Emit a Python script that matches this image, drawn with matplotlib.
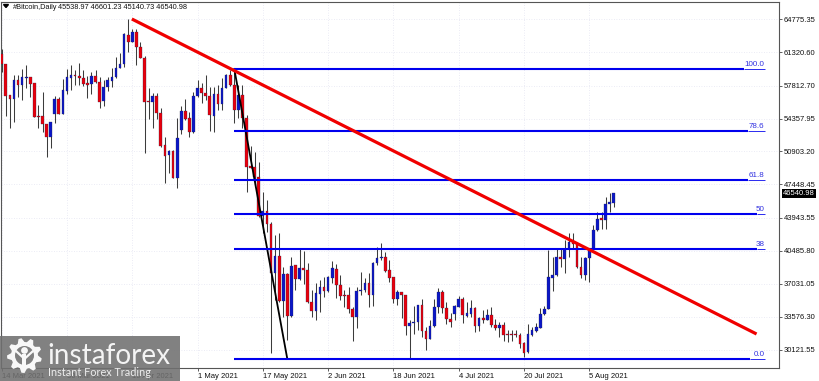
import numpy as np
import matplotlib
matplotlib.use('Agg')
import matplotlib.pyplot as plt
from matplotlib.patches import Rectangle, Polygon, Circle

plt.rcParams['font.family'] = ['Liberation Sans', 'DejaVu Sans']

# daily candles
opens = [61080, 60030, 56820, 56435, 58390, 57900, 58635, 58705, 58040, 54620,
         54620, 53750, 52420, 54865, 56435, 54865, 57240, 58635, 58880, 58810,
         58600, 58040, 58005, 58775, 58180, 56190, 57620, 58320, 58670, 59645,
         60030, 63135, 62330, 63415, 61845, 60730, 56155, 56120, 56750, 54900,
         51550, 50500, 50955, 48165, 53155, 55145, 54410, 52945, 56715, 57585,
         56995, 56715, 54655, 56890, 55840, 57585, 58910, 57865, 55250, 56820,
         54445, 49385, 49245, 48270, 44150, 44710, 43310, 38220, 39960, 35285,
         38080, 33680, 38985, 37590, 38740, 38460, 35180, 34205, 35985, 36680,
         36260, 37695, 38635, 36960, 35915, 35915, 34450, 33540, 36300, 36400,
         37100, 35915, 39195, 39750, 39860, 38460, 37730, 35495, 36160, 35880,
         32635, 32910, 33015, 34830, 32145, 31270, 32635, 34590, 36160, 34480,
         33365, 33855, 34655, 35495, 33715, 33890, 34515, 32635, 33470, 33295,
         33750, 32775, 32460, 32775, 31760, 31760, 31725, 31690, 30820, 29875,
         31690, 32110, 32460, 33855, 34450, 37695, 37970, 39890, 39650, 40660,
         41465, 41220, 38845, 37970, 39715, 40730, 42685, 43905, 43730, 45370,
         45538.97]
highs = [61600, 60030, 56820, 58910, 58910, 59505, 59960, 58705, 58040, 55770,
         57170, 53750, 54025, 56715, 56645, 58460, 59505, 59960, 59435, 60135,
         59435, 58810, 59260, 59435, 58670, 58390, 58670, 59610, 60830, 61180,
         63275, 64775, 63695, 63695, 62400, 60900, 57515, 56995, 56995, 55420,
         52455, 51060, 51060, 54375, 55665, 56435, 55075, 57170, 58390, 58040,
         58910, 57690, 57690, 57865, 58565, 59020, 59435, 59260, 57865, 57865,
         54725, 51480, 50885, 49840, 46700, 45825, 43555, 42160, 42335, 38845,
         38150, 39890, 39020, 40765, 40520, 39195, 36400, 37100, 37450, 37800,
         37870, 39440, 39125, 37970, 36400, 36750, 34655, 36750, 38320, 37625,
         38150, 39370, 40940, 41290, 40415, 39540, 37800, 36400, 36230, 35880,
         33260, 34725, 34830, 35425, 32565, 33260, 35425, 36575, 36400, 35180,
         33960, 34830, 35775, 35705, 35180, 35355, 34590, 33610, 34310, 34380,
         34655, 33330, 33085, 33085, 32215, 32215, 32215, 31865, 30990, 32845,
         32565, 32910, 34480, 34725, 40590, 39890, 40765, 40765, 41640, 42335,
         42335, 41290, 39820, 39820, 40765, 43210, 44535, 44605, 46105, 46590,
         46601.23]
lows = [59260, 54620, 53330, 54025, 56645, 56295, 57515, 56645, 54480, 53330,
        52980, 50360, 51235, 53920, 54830, 54830, 56925, 57340, 57830, 57865,
        57760, 56540, 56890, 58110, 55490, 55700, 57270, 57690, 58565, 59645,
        59785, 61355, 62330, 59960, 60660, 50710, 54270, 53330, 54270, 51410,
        47570, 48690, 48095, 47115, 52700, 54200, 52385, 52805, 56645, 55945,
        56295, 53085, 52980, 55250, 55250, 57585, 57760, 53850, 54375, 53330,
        46700, 49210, 47220, 44080, 42335, 42510, 29770, 35355, 35180, 33610,
        31165, 33610, 36400, 37450, 37030, 35075, 33610, 33260, 34135, 35635,
        36190, 37100, 35530, 35355, 34655, 33960, 31095, 32390, 35880, 36230,
        34590, 34725, 39020, 39540, 38320, 37275, 35005, 34830, 33435, 31690,
        29320, 31795, 32215, 31445, 30120, 31235, 32565, 34030, 33960, 32845,
        32565, 33260, 34590, 32910, 33610, 33610, 32040, 32145, 32910, 33260,
        32565, 32215, 31515, 31095, 30990, 31095, 31515, 30295, 29350, 29770,
        31585, 32040, 32390, 33785, 34380, 36330, 37900, 38845, 38150, 39890,
        40765, 38670, 37625, 37450, 37205, 40660, 42615, 42790, 42755, 44605,
        45140.73]
closes = [60065, 56750, 56435, 58390, 57865, 58670, 58705, 58005, 54550, 54550,
          53750, 52420, 54025, 56435, 54830, 57305, 58670, 58910, 58810, 58600,
          57935, 57900, 58775, 58180, 56120, 57655, 58390, 58670, 59680, 60030,
          63170, 62400, 63415, 61810, 60730, 56120, 56085, 56750, 54900, 51515,
          50465, 50955, 48095, 52280, 55145, 54340, 52910, 56715, 57585, 56995,
          56750, 54725, 56890, 55875, 57585, 58880, 57865, 55250, 56820, 54445,
          49315, 49210, 48200, 44150, 44710, 43280, 38220, 39960, 35250, 38080,
          33680, 38950, 37590, 38740, 38460, 35145, 34170, 36050, 36680, 36260,
          37765, 38670, 36925, 35810, 35810, 34410, 33540, 36300, 36400, 37100,
          35915, 39265, 39750, 39890, 38425, 37660, 35495, 36230, 35845, 32635,
          32945, 33050, 34830, 32145, 31235, 32635, 34620, 36160, 34480, 33330,
          33050, 34725, 35495, 33750, 33960, 34515, 32635, 33470, 33295, 33785,
          32705, 32425, 32740, 31690, 31690, 31690, 31655, 30715, 29840, 31760,
          32180, 32495, 33890, 34450, 37730, 37970, 39890, 39680, 40695, 41465,
          41220, 38775, 37970, 39715, 40695, 42685, 43835, 43730, 45405, 45615,
          46540.98]

# x tick labels sit every 16 bars
date_ticks = [0, 16, 32, 48, 64, 80, 96, 112, 128, 144]
date_labels = ['14 Mar 2021', '30 Mar 2021', '15 Apr 2021', '1 May 2021', '17 May 2021',
               '2 Jun 2021', '18 Jun 2021', '4 Jul 2021', '20 Jul 2021', '5 Aug 2021']
price_ticks = [64775.35, 61320.60, 57812.70, 54357.95, 50903.20, 47448.45,
               43943.55, 40485.80, 37031.05, 33576.30, 30121.55]

# fibonacci retracement
fib_names = ['100.0', '78.6', '61.8', '50', '38', '0.0']
fib_prices = [59540, 53043, 47941, 44359, 40716, 29178]
fib_thick_end = [182, 183, 183, 185, 185, 183.5]
fib_start, fib_end = 57, 187

trend_x = [31.9, 185]
trend_y = [64775, 31795]
swing_x = [57, 70]
swing_y = [59540, 29178]

last_price = closes[-1]

W, H = 820, 381
fig = plt.figure(figsize=(W / 100, H / 100), dpi=100, facecolor='white')
ax = fig.add_axes([1.5 / W, 1 - 367.5 / H, 777.5 / W, 366 / H])
ax.set_xlim(-0.05, 190.5)
ax.set_ylim(28288, 66608)

ax.grid(True, color='#e4e5f2', linestyle=(0, (1, 2)), linewidth=0.6)
ax.set_axisbelow(True)

xs = np.arange(len(opens))
opens_a = np.array(opens)
closes_a = np.array(closes)
ax.vlines(xs, lows, highs, color='#3c3c3c', linewidth=0.75, zorder=2)
tops = np.maximum(opens_a, closes_a)
bottoms = np.minimum(opens_a, closes_a)
colors = ['#0b17c8' if c >= o else '#e8000c' for o, c in zip(opens, closes)]
ax.bar(xs, np.maximum(tops - bottoms, 90), bottom=bottoms, width=0.66, color=colors,
       edgecolor='#222244', linewidth=0.2, zorder=3)

ax.plot(swing_x, swing_y, color='black', linewidth=1.3, zorder=4)

for name, price, thick in zip(fib_names, fib_prices, fib_thick_end):
    ax.plot([fib_start, thick], [price, price], color='#0000ee', linewidth=1.5,
            solid_capstyle='butt', zorder=5)
    ax.plot([thick, fib_end], [price, price], color='#2a2af0', linewidth=0.7,
            solid_capstyle='butt', zorder=5)
    ax.text(fib_end - 0.1, price + 130, name, color='#3030e0', fontsize=5.8,
            ha='right', va='bottom', zorder=6)

ax.plot(trend_x, trend_y, color='#f00000', linewidth=2.3, solid_capstyle='butt', zorder=6)

ax.yaxis.tick_right()
ax.set_yticks(price_ticks)
ax.set_yticklabels([f'{p:.2f}' for p in price_ticks], fontsize=5.5, color='#111111')
ax.set_xticks(date_ticks)
ax.set_xticklabels(date_labels, fontsize=5.5, color='#111111', ha='left')
ax.tick_params(axis='y', length=2.2, width=0.6, pad=1, color='#444444')
ax.tick_params(axis='x', length=2, width=0.6, pad=2.2, color='#444444')
for s in ax.spines.values():
    s.set_color('#555555')
    s.set_linewidth(0.8)

ax.annotate(f'{last_price:.2f}', xy=(1, last_price), xycoords=('axes fraction', 'data'),
            xytext=(3, 0), textcoords='offset points', fontsize=5.5, color='white',
            va='center', ha='left', annotation_clip=False, zorder=10,
            bbox=dict(boxstyle='square,pad=0.12', fc='black', ec='black', lw=0))

# overlay in pixel coordinates for header and watermark
ov = fig.add_axes([0, 0, 1, 1], facecolor='none')
ov.set_xlim(0, W)
ov.set_ylim(H, 0)
ov.axis('off')

ov.add_patch(Polygon([[3.5, 4.5], [8.5, 4.5], [6, 7.5]], closed=True, color='black'))
ov.text(13, 7.5, '#Bitcoin,Daily', fontsize=5.3, color='#111111', va='center', ha='left')
ov.text(58.5, 7.5, '45538.97 46601.23 45140.73 46540.98', fontsize=5.3,
        color='#111111', va='center', ha='left')

ov.add_patch(Rectangle((0, 336), 180, 45, color='#707070', alpha=0.88, lw=0))

# gear logo
gx, gy = 24.5, 355.5
n = 9
ang = np.linspace(0, 2 * np.pi, n * 4, endpoint=False) + np.pi / n / 2
rad = np.tile([17.5, 17.5, 13.5, 13.5], n)
ov.add_patch(Polygon(np.c_[gx + rad * np.cos(ang), gy + rad * np.sin(ang)], closed=True,
                     color='#f8f8f8', lw=0))
ov.add_patch(Circle((gx, gy), 9.5, color='#808080', lw=0))
ov.add_patch(Circle((gx, gy - 5), 3.4, color='#f8f8f8', lw=0))
ov.add_patch(Rectangle((gx - 2, gy - 2), 4, 15, color='#f8f8f8', lw=0))
ov.plot([gx - 8, gx - 1.5], [gy - 4, gy + 2], color='#f8f8f8', lw=1.6)
ov.plot([gx + 8, gx + 1.5], [gy - 4, gy + 2], color='#f8f8f8', lw=1.6)

ov.text(47.5, 364, 'instaforex', fontsize=20.2, color='#f4f4f4', family='Lato',
        va='baseline', ha='left')
ov.text(48, 375.5, 'Instant Forex Trading', fontsize=7.8, color='#eeeeee', family='Lato',
        va='baseline', ha='left')

fig.savefig('out.png', dpi=100)
